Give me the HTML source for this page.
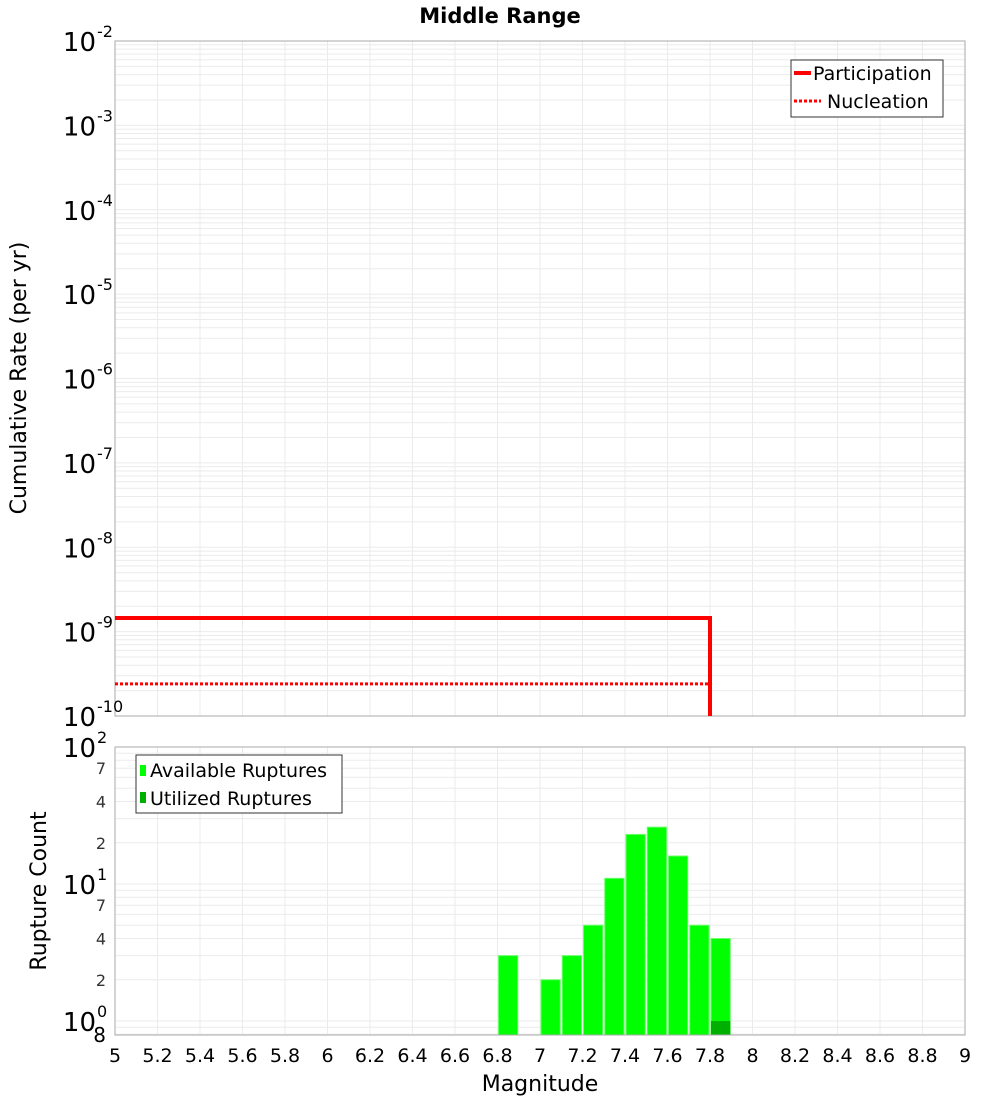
<!DOCTYPE html>
<html><head><meta charset="utf-8"><style>
body{margin:0;background:#fff}
svg text{font-family:"DejaVu Sans","Liberation Sans",sans-serif}
</style></head><body>
<svg id="c" width="1000" height="1100" xmlns="http://www.w3.org/2000/svg">
<text x="500" y="23" text-anchor="middle" font-size="21" font-weight="bold">Middle Range</text>
<g id="topG"></g>
<g id="botG"></g>
<text transform="translate(26,378) rotate(-90)" text-anchor="middle" font-size="22">Cumulative Rate (per yr)</text>
<text transform="translate(46,891) rotate(-90)" text-anchor="middle" font-size="22">Rupture Count</text>
<text x="540" y="1091" text-anchor="middle" font-size="22">Magnitude</text>
</svg>
<script>
const xTicks=[5,5.2,5.4,5.6,5.8,6,6.2,6.4,6.6,6.8,7,7.2,7.4,7.6,7.8,8,8.2,8.4,8.6,8.8,9];
const rateExps=[-2,-3,-4,-5,-6,-7,-8,-9,-10];
const partMags=[5,7.8,7.8];
const partRates=[1.45e-9,1.45e-9,1e-10];
const nuclMags=[5,7.8,7.8];
const nuclRates=[2.4e-10,2.4e-10,1e-10];
const binCenters=[6.85,7.05,7.15,7.25,7.35,7.45,7.55,7.65,7.75,7.85];
const availCounts=[3,2,3,5,11,23,26,16,5,4];
const utilMags=[7.85];
const utilCounts=[1];
const countMinorLabels=[2,4,7];

(function(){
const NS="http://www.w3.org/2000/svg";
function mk(p,t,a){const e=document.createElementNS(NS,t);for(const k in a)e.setAttribute(k,a[k]);p.appendChild(e);return e;}
const X0=115,X1=965;
const xs=m=>X0+(m-5)/4*(X1-X0);
const T0=41,T1=716;
const ty=v=>T0+(-2-Math.log10(v))*(T1-T0)/8;
const B0=747,B1=1035;
const cy=v=>B0+(2-Math.log10(v))*137;
const topG=document.getElementById('topG'),botG=document.getElementById('botG');

for(let e=-10;e<-2;e++)for(let k=1;k<10;k++){const y=ty(k*Math.pow(10,e));if(y<T0||y>T1)continue;
 const l=mk(topG,'line',{x1:X0,x2:X1,y1:y,y2:y,stroke:'#ebebeb','stroke-width':1});
 
 }
xTicks.forEach(m=>{const l=mk(topG,'line',{x1:xs(m),x2:xs(m),y1:T0,y2:T1,stroke:'#ebebeb'});
 
 
 const l2=mk(botG,'line',{x1:xs(m),x2:xs(m),y1:B0,y2:B1,stroke:'#ebebeb'});
 
 });
const tf=mk(topG,'rect',{x:X0,y:T0,width:X1-X0,height:T1-T0,fill:'none',stroke:'#aaa'});


rateExps.forEach(e=>{const y=ty(Math.pow(10,e));
 const t=mk(topG,'text',{x:96,y:y+10,'text-anchor':'end','font-size':26});t.textContent='10';
 
 
 const s=mk(topG,'text',{x:97,y:y-4,'font-size':16});s.textContent=String(e);
 
 });
function path(mags,vals){return mags.map((m,i)=>(i?'L':'M')+xs(m)+','+ty(vals[i])).join(' ');}
const pl=mk(topG,'path',{d:path(partMags,partRates),fill:'none',stroke:'#f00','stroke-width':4});


const nl=mk(topG,'path',{d:path(nuclMags,nuclRates),fill:'none',stroke:'#f00','stroke-width':3,'stroke-dasharray':'3,2'});


const lg=mk(topG,'g',{});


mk(lg,'rect',{x:791,y:60,width:152,height:57,fill:'#fff',stroke:'#333'});
mk(lg,'line',{x1:794,x2:811,y1:73,y2:73,stroke:'#f00','stroke-width':4});
mk(lg,'line',{x1:794,x2:821,y1:101,y2:101,stroke:'#f00','stroke-width':3,'stroke-dasharray':'3,2'});
let t=mk(lg,'text',{x:813,y:80,'font-size':19});t.textContent='Participation';


t=mk(lg,'text',{x:827,y:108,'font-size':19});t.textContent='Nucleation';



for(let e=-1;e<2;e++)for(let k=1;k<10;k++){const y=cy(k*Math.pow(10,e));if(y<B0||y>B1)continue;
 const l=mk(botG,'line',{x1:X0,x2:X1,y1:y,y2:y,stroke:'#ebebeb'});
 
 }
const bw=(X1-X0)/40;
binCenters.forEach((m,i)=>{const y=cy(availCounts[i]);
 const r=mk(botG,'rect',{x:xs(m)-bw/2+1,y:y,width:bw-2,height:B1-y,fill:'#00ff00',stroke:'#66ff66','stroke-width':1});
 
 });
utilMags.forEach((m,i)=>{const y=cy(utilCounts[i]);
 const r=mk(botG,'rect',{x:xs(m)-bw/2+1,y:y,width:bw-2,height:B1-y,fill:'#00b000'});
 
 });
const bf=mk(botG,'rect',{x:X0,y:B0,width:X1-X0,height:B1-B0,fill:'none',stroke:'#aaa'});


[2,1,0].forEach(e=>{const y=cy(Math.pow(10,e));
 const a=mk(botG,'text',{x:96,y:y+10,'text-anchor':'end','font-size':26});a.textContent='10';
 
 
 const s=mk(botG,'text',{x:97,y:y-4,'font-size':16});s.textContent=String(e);
 
 });
[1,10].forEach(d=>countMinorLabels.forEach(k=>{const y=cy(k*d);
 const a=mk(botG,'text',{x:106,y:y+6,'text-anchor':'end','font-size':16,fill:'#333'});a.textContent=String(k);
 
 }));
t=mk(botG,'text',{x:106,y:1042,'text-anchor':'end','font-size':20});t.textContent='8';


xTicks.forEach(m=>{const a=mk(botG,'text',{x:xs(m),y:1062,'text-anchor':'middle','font-size':19});a.textContent=String(m);
 
 });
const bl=mk(botG,'g',{});


mk(bl,'rect',{x:136,y:755,width:206,height:58,fill:'#fff',stroke:'#333'});
mk(bl,'rect',{x:140,y:765,width:6,height:11,fill:'#00ff00'});
mk(bl,'rect',{x:140,y:792,width:6,height:11,fill:'#00b000'});
t=mk(bl,'text',{x:150,y:777,'font-size':19});t.textContent='Available Ruptures';


t=mk(bl,'text',{x:150,y:805,'font-size':19});t.textContent='Utilized Ruptures';


})();
</script>
</body></html>
